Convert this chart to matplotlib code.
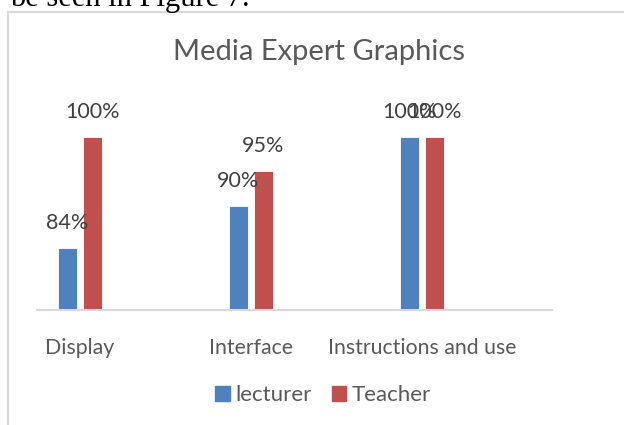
import matplotlib
matplotlib.use("Agg")
import matplotlib.pyplot as plt
import matplotlib.patches as mpatches
from matplotlib.lines import Line2D
import numpy as np

categories = ["Display", "Interface", "Instructions and use"]
lecturer = [84, 90, 100]
teacher = [100, 95, 100]
series_names = ["lecturer", "Teacher"]

BLUE = "#4F81BD"
RED = "#C0504D"
TXT = "#595959"
LBL = "#404040"
GRID = "#D9D9D9"
FONT = "Lato"

W, H = 624, 425
fig = plt.figure(figsize=(W / 100, H / 100), dpi=100)
fig.patch.set_facecolor("white")

# axes placed in pixel terms: left 37, right 552, baseline y=310, top y=102
ax = fig.add_axes([37 / W, (H - 310) / H, (552 - 37) / W, (310 - 102) / H])

x = np.arange(len(categories))
off, bw = 0.073, 0.111
b1 = ax.bar(x - off, lecturer, bw, color=BLUE, edgecolor="white", linewidth=0.6, zorder=2)
b2 = ax.bar(x + off, teacher, bw, color=RED, edgecolor="white", linewidth=0.6, zorder=2)

for bars, vals in ((b1, lecturer), (b2, teacher)):
    for rect, v in zip(bars, vals):
        ax.annotate(f"{v}%", (rect.get_x() + rect.get_width() / 2, v),
                    xytext=(0, 18), textcoords="offset points",
                    ha="center", va="center", fontsize=15.5, color=LBL,
                    family=FONT, annotation_clip=False)

ax.set_ylim(75, 105)
ax.set_xlim(-0.251, 2.76)
ax.set_yticks([])
ax.set_xticks(x)
ax.set_xticklabels(categories, fontsize=15.3, color=TXT, family=FONT)
ax.tick_params(axis="x", length=0, pad=20)
for s in ("top", "right", "left"):
    ax.spines[s].set_visible(False)
ax.spines["bottom"].set_color(GRID)
ax.spines["bottom"].set_linewidth(1.5)

fig.text(319 / W, 1 - 52 / H, "Media Expert Graphics", ha="center", va="center",
         fontsize=21, color=TXT, family=FONT)

handles = [mpatches.Patch(color=BLUE, label=series_names[0]),
           mpatches.Patch(color=RED, label=series_names[1])]
leg = fig.legend(handles=handles, loc="center", bbox_to_anchor=(323 / W, 1 - 395 / H),
                 ncol=2, frameon=False, handlelength=0.65, handleheight=0.65,
                 handletextpad=0.25, columnspacing=0.9,
                 prop={"family": FONT, "size": 16})
for t in leg.get_texts():
    t.set_color(TXT)

# chart frame (left and top edges) and the cut-off document line above it
fig.add_artist(Line2D([8 / W, 8 / W], [0, 1 - 12 / H], color=GRID, lw=1.5))
fig.add_artist(Line2D([8 / W, 1], [1 - 12 / H, 1 - 12 / H], color=GRID, lw=1.5))
fig.text(10 / W, 1 - 6 / H, "be seen in Figure 7.", ha="left", va="baseline",
         fontsize=22, color="black", family="Liberation Serif")

fig.savefig("out.png", dpi=100)
